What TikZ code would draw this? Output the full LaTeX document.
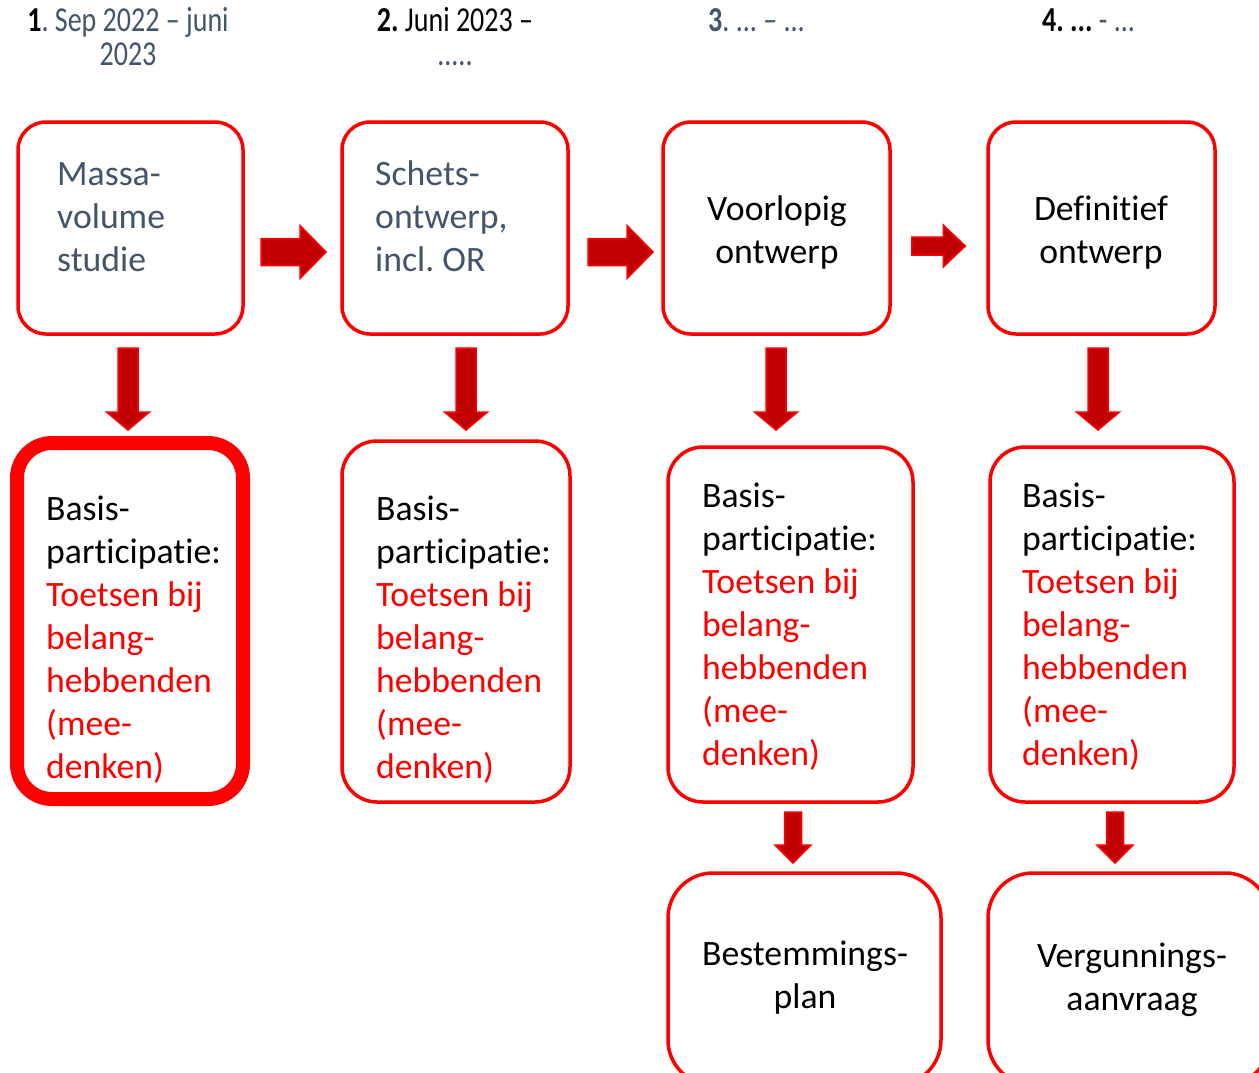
\documentclass[tikz,border=0pt]{standalone}
\usepackage{fontspec}
\setmainfont{Carlito}[Ligatures={NoCommon}]
\usetikzlibrary{calc}
\definecolor{pred}{HTML}{FF0000}
\definecolor{dred}{HTML}{C00000}
\definecolor{slate}{HTML}{44546A}
\newcommand\bodyfont{\fontsize{35.7}{43}\selectfont}
\newcommand\headfont{\fontsize{35}{34}\selectfont}
\newcommand\hx[1]{\scalebox{0.8}[1]{#1}}
\newcommand\harrow[5]{%
  \path[blockarr] let \p1=#1, \p2=#2 in
  (\x1,{\y1+#3pt}) -- ({\x2-#5pt},{\y1+#3pt}) -- ({\x2-#5pt},{\y1+#4pt}) -- (\x2,\y1)
  -- ({\x2-#5pt},{\y1-#4pt}) -- ({\x2-#5pt},{\y1-#3pt}) -- (\x1,{\y1-#3pt}) -- cycle;}
\newcommand\varrow[5]{%
  \path[blockarr] let \p1=#1, \p2=#2 in
  ({\x1-#3pt},\y1) -- ({\x1-#3pt},{\y2+#5pt}) -- ({\x1-#4pt},{\y2+#5pt}) -- (\x1,\y2)
  -- ({\x1+#4pt},{\y2+#5pt}) -- ({\x1+#3pt},{\y2+#5pt}) -- ({\x1+#3pt},\y1) -- cycle;}
\tikzset{
  box/.style={draw=pred, line width=3.5pt, rounded corners=28pt, inner sep=0pt},
  midbox/.style={box, rounded corners=35pt},
  lowbox/.style={box, rounded corners=45pt},
  blockarr/.style={fill=dred, draw=pred, line width=1.5pt, line join=miter},
  txt/.style={inner sep=0pt, font=\bodyfont},
  head/.style={inner sep=0pt, font=\headfont},
}
\newcommand\basis{Basis-\\participatie:\\\color{pred}Toetsen bij\\belang-\\hebbenden\\(mee-\\denken)}
\frenchspacing
\begin{document}
\begin{tikzpicture}[x=1pt,y=-1pt]
\useasboundingbox (0,0) rectangle (1259,1073);
\fill[white] (0,0) rectangle (1259,1073);
\clip (0,0) rectangle (1259,1073);

% headers
\node[head, anchor=base] (h1) at (128,32) {\parbox[t]{260pt}{\centering
  \hx{\textbf{1}\textcolor{slate}{. Sep 2022 -- juni}}\\ \hx{\textcolor{slate}{2023}}}};
\node[head, anchor=base] (h2) at (455,32) {\parbox[t]{260pt}{\centering
  \hx{\textbf{2.} Juni 2023 --}\\ \hx{\textcolor{slate}{.....}}}};
\node[head, anchor=base west] (h3) at (708,32) {\hx{\textcolor{slate}{\textbf{3}. ... -- ...}}};
\node[head, anchor=base west] (h4) at (1042,32) {\hx{\textbf{4. ...} \textcolor{slate}{- ...}}};

% top row
\node[box, minimum width=225pt, minimum height=212pt] (A) at (130.5,228) {};
\node[box, minimum width=226pt, minimum height=212pt] (B) at (455,228) {};
\node[box, minimum width=227pt, minimum height=212pt] (C) at (776.5,228) {};
\node[box, minimum width=227pt, minimum height=212pt] (D) at (1101.5,228) {};

\node[txt, anchor=base west, text=slate] (tA) at (57,185) {\parbox[t]{200pt}{\raggedright Massa-\\volume\\studie}};
\node[txt, anchor=base west, text=slate] (tB) at (375,185) {\parbox[t]{200pt}{\raggedright Schets-\\ontwerp,\\incl. OR}};
\node[txt, anchor=base] (tC) at (777,220) {\parbox[t]{220pt}{\centering Voorlopig\\ontwerp}};
\node[txt, anchor=base] (tD) at (1101,220) {\parbox[t]{220pt}{\centering Definitief\\ontwerp}};

% middle row
\node[midbox, line width=14pt, minimum width=226pt, minimum height=356pt] (A2) at (130,621) {};
\node[midbox, minimum width=228pt, minimum height=361pt] (B2) at (456,621.5) {};
\node[midbox, minimum width=245pt, minimum height=355pt] (C2) at (790.5,624.5) {};
\node[midbox, minimum width=244pt, minimum height=355pt] (D2) at (1112,624.5) {};

\node[txt, anchor=base west] (tA2) at (46,520) {\parbox[t]{200pt}{\raggedright\basis}};
\node[txt, anchor=base west] (tB2) at (376,520) {\parbox[t]{200pt}{\raggedright\basis}};
\node[txt, anchor=base west] (tC2) at (702,507) {\parbox[t]{200pt}{\raggedright\basis}};
\node[txt, anchor=base west] (tD2) at (1022,507) {\parbox[t]{200pt}{\raggedright\basis}};

% bottom row
\node[lowbox, minimum width=273pt, minimum height=212pt] (C3) at (804.5,979) {};
\node[lowbox, minimum width=282pt, minimum height=212pt] (D3) at (1129,979) {};
\node[txt, anchor=base] (tC3) at (805,965) {\parbox[t]{260pt}{\centering Bestemmings-\\plan}};
\node[txt, anchor=base] (tD3) at (1132,967) {\parbox[t]{260pt}{\centering Vergunnings-\\aanvraag}};

% horizontal block arrows
\harrow{($(A.east)+(16.25,24)$)}{($(B.west)+(-14.25,24)$)}{13.5}{26.5}{26}
\harrow{($(B.east)+(18.25,24)$)}{($(C.west)+(-8.25,24)$)}{13.5}{26.5}{26}
\harrow{($(C.east)+(20,18)$)}{($(D.west)+(-21,18)$)}{9}{21}{22}

% vertical block arrows
\varrow{($(A.south)+(-2.5,12.25)$)}{($(A2.north)+(0,-6)$)}{10}{21.5}{18}
\varrow{($(B.south)+(11,12.25)$)}{($(B2.north)+(0,-9.25)$)}{10}{21.5}{18}
\varrow{($(C.south)+(-0.5,12.25)$)}{($(C2.north)+(0,-15.25)$)}{10}{21.5}{18}
\varrow{($(D.south)+(-3.5,12.25)$)}{($(D2.north)+(0,-15.25)$)}{10}{21.5}{18}
\varrow{($(C2.south)+(2.5,8.25)$)}{($(C3.north)+(0,-8.25)$)}{8.5}{18}{18}
\varrow{($(D2.south)+(3,8.25)$)}{($(D3.north)+(0,-8.25)$)}{8.5}{18}{18}
\end{tikzpicture}
\end{document}
